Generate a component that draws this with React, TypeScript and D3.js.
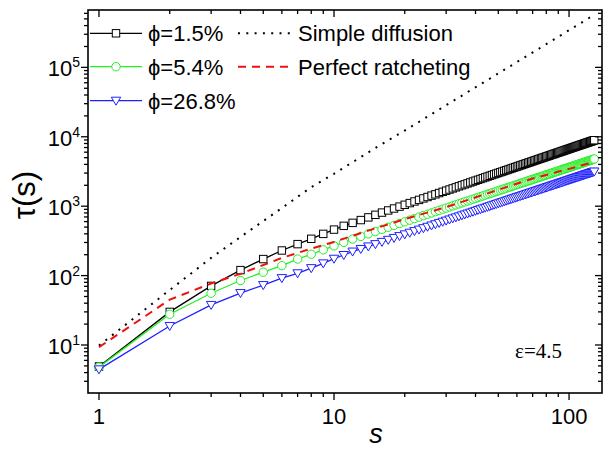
import React, { useEffect, useRef } from 'react';
import * as d3 from 'd3';

// s = 1..128 (integer steps)
const sValues = d3.range(1, 129);

// tau(s) for phi = 1.5 %
const tauLow = [
  4.9, 30, 71, 120, 173, 230, 284, 339, 399, 460, 521, 575, 631, 690, 751,
  809, 868, 926, 986, 1048, 1108, 1170, 1232, 1294, 1356, 1420, 1482, 1546, 1610, 1673,
  1738, 1804, 1868, 1935, 2000, 2066, 2131, 2198, 2264, 2332, 2399, 2467, 2535, 2602, 2671,
  2740, 2808, 2877, 2946, 3017, 3086, 3155, 3225, 3294, 3365, 3436, 3507, 3578, 3651, 3724,
  3794, 3867, 3938, 4010, 4083, 4155, 4226, 4300, 4374, 4449, 4523, 4595, 4667, 4743, 4817,
  4891, 4965, 5039, 5113, 5190, 5266, 5338, 5414, 5489, 5565, 5641, 5718, 5792, 5869, 5946,
  6020, 6097, 6174, 6248, 6327, 6403, 6481, 6560, 6634, 6714, 6788, 6869, 6943, 7023, 7099,
  7179, 7255, 7335, 7413, 7493, 7569, 7649, 7726, 7808, 7884, 7965, 8041, 8123, 8201, 8282,
  8360, 8441, 8519, 8600, 8679, 8764, 8840, 8923,
];

// tau(s) for phi = 5.4 %
const tauMid = [
  4.8, 27.7, 55.7, 85, 112, 139, 173, 203, 235, 268, 301, 336, 367, 399, 431,
  464, 497, 529, 562, 596, 629, 663, 697, 731, 765, 800, 834, 869, 904, 939,
  974, 1010, 1045, 1081, 1117, 1152, 1188, 1224, 1260, 1297, 1333, 1370, 1407, 1443, 1480,
  1517, 1554, 1591, 1628, 1666, 1703, 1740, 1778, 1815, 1853, 1891, 1929, 1967, 2005, 2044,
  2081, 2120, 2158, 2196, 2235, 2274, 2312, 2351, 2390, 2430, 2469, 2507, 2546, 2586, 2625,
  2664, 2703, 2743, 2782, 2822, 2862, 2901, 2941, 2980, 3021, 3061, 3101, 3141, 3181, 3221,
  3261, 3301, 3341, 3381, 3422, 3463, 3503, 3544, 3584, 3625, 3665, 3707, 3747, 3788, 3829,
  3870, 3911, 3952, 3994, 4035, 4076, 4117, 4158, 4200, 4241, 4282, 4323, 4365, 4407, 4448,
  4490, 4531, 4573, 4614, 4656, 4699, 4740, 4782,
];

// tau(s) for phi = 26.8 %
const tauHigh = [
  4.46, 18.8, 37.8, 56, 73, 92, 108, 128, 150, 175, 198, 222, 242, 263, 284,
  306, 328, 349, 371, 393, 415, 438, 460, 482, 505, 528, 550, 574, 597, 620,
  643, 667, 690, 713, 737, 760, 784, 808, 832, 856, 880, 904, 929, 952, 977,
  1001, 1026, 1050, 1074, 1100, 1124, 1148, 1173, 1198, 1223, 1248, 1273, 1298, 1323, 1349,
  1373, 1399, 1424, 1449, 1475, 1501, 1526, 1552, 1577, 1604, 1630, 1655, 1680, 1707, 1733,
  1758, 1784, 1810, 1836, 1863, 1889, 1915, 1941, 1967, 1994, 2020, 2047, 2073, 2099, 2126,
  2152, 2179, 2205, 2231, 2259, 2286, 2312, 2339, 2365, 2393, 2419, 2447, 2473, 2500, 2527,
  2554, 2581, 2608, 2636, 2663, 2690, 2717, 2744, 2772, 2799, 2826, 2853, 2881, 2909, 2936,
  2963, 2990, 3018, 3045, 3073, 3101, 3128, 3156,
];

// reference curves
const diffS = [1, 2, 3, 4, 5, 6, 8, 10, 15, 20, 30, 50, 70, 100, 128];
const diffTau = [9.8, 62, 180, 360, 610, 940, 1880, 2930, 6900, 12300, 28500, 81800, 164000, 343000, 571000];
const ratchetS = [1, 2, 3, 4, 6, 8, 10, 15, 20, 30, 45, 70, 100, 128];
const ratchetTau = [9.3, 45, 77, 106, 180, 245, 305, 480, 650, 970, 1530, 2500, 3450, 4350];

const xTicks = [1, 10, 100];
const yExponents = [1, 2, 3, 4, 5];
const seriesNames = ['ϕ=1.5%', 'ϕ=5.4%', 'ϕ=26.8%'];
const refNames = ['Simple diffusion', 'Perfect ratcheting'];
const epsLabel = 'ε=4.5';

const sans = 'Liberation Sans, Arial, Helvetica, sans-serif';

const App = () => {
  const chartRef = useRef<SVGSVGElement>(null);

  useEffect(() => {
    const svg = d3.select(chartRef.current);
    svg.selectAll('*').remove();

    const left = 88, right = 602, top = 10, bottom = 393;
    const x = d3.scaleLog().domain([0.898, 138.1]).range([left, right]);
    const y = d3.scaleLog().domain([2.034, 6.71e5]).range([bottom, top]);

    const series = [
      { vals: tauLow, color: '#000000', shape: 'square' },
      { vals: tauMid, color: '#22f022', shape: 'circle' },
      { vals: tauHigh, color: '#1f1fff', shape: 'tri' },
    ];

    const marker = (g, shape, color, cx, cy) => {
      if (shape === 'square') {
        g.append('rect').attr('x', cx - 3.7).attr('y', cy - 3.7).attr('width', 7.4).attr('height', 7.4)
          .attr('fill', '#fff').attr('stroke', color).attr('stroke-width', 1);
      } else if (shape === 'circle') {
        g.append('circle').attr('cx', cx).attr('cy', cy).attr('r', 4.2)
          .attr('fill', '#fff').attr('stroke', color).attr('stroke-width', 1);
      } else {
        g.append('path')
          .attr('d', `M${cx - 4.7},${cy - 3.5}L${cx + 4.7},${cy - 3.5}L${cx},${cy + 4.5}Z`)
          .attr('fill', '#fff').attr('stroke', color).attr('stroke-width', 1);
      }
    };

    const line = d3.line<[number, number]>().x(d => x(d[0])).y(d => y(d[1]));

    // data series
    series.forEach(sr => {
      const pts = sValues.map((s, i) => [s, sr.vals[i]] as [number, number]);
      svg.append('path').attr('d', line(pts)).attr('fill', 'none')
        .attr('stroke', sr.color).attr('stroke-width', 1.3);
      const g = svg.append('g');
      pts.forEach(p => marker(g, sr.shape, sr.color, x(p[0]), y(p[1])));
    });

    // reference lines
    svg.append('path').attr('d', line(diffS.map((s, i) => [s, diffTau[i]] as [number, number])))
      .attr('fill', 'none').attr('stroke', '#000').attr('stroke-width', 2).attr('stroke-dasharray', '2,6.3');
    svg.append('path').attr('d', line(ratchetS.map((s, i) => [s, ratchetTau[i]] as [number, number])))
      .attr('fill', 'none').attr('stroke', '#ee1111').attr('stroke-width', 2).attr('stroke-dasharray', '8,6');

    // frame
    svg.append('rect').attr('x', left).attr('y', top).attr('width', right - left).attr('height', bottom - top)
      .attr('fill', 'none').attr('stroke', '#000').attr('stroke-width', 1.6);

    // x ticks
    const xMinor = [];
    [1, 10, 100].forEach(d => [2, 3, 4, 5, 6, 7, 8, 9].forEach(m => { if (d * m < 138) xMinor.push(d * m); }));
    const ax = svg.append('g').attr('stroke', '#000').attr('stroke-width', 1.3);
    xTicks.forEach(t => {
      ax.append('line').attr('x1', x(t)).attr('x2', x(t)).attr('y1', bottom).attr('y2', bottom + 7);
      ax.append('line').attr('x1', x(t)).attr('x2', x(t)).attr('y1', top).attr('y2', top + 7);
    });
    xMinor.forEach(t => {
      ax.append('line').attr('x1', x(t)).attr('x2', x(t)).attr('y1', bottom).attr('y2', bottom + 4);
      ax.append('line').attr('x1', x(t)).attr('x2', x(t)).attr('y1', top).attr('y2', top + 4);
    });

    // y ticks
    const yMinor = [];
    [1, 10, 100, 1000, 10000, 100000].forEach(d => [2, 3, 4, 5, 6, 7, 8, 9].forEach(m => {
      const v = d * m;
      if (v > 2.04 && v < 6.7e5) yMinor.push(v);
    }));
    yExponents.forEach(e => {
      const v = Math.pow(10, e);
      ax.append('line').attr('x1', left - 7).attr('x2', left).attr('y1', y(v)).attr('y2', y(v));
      ax.append('line').attr('x1', right - 7).attr('x2', right).attr('y1', y(v)).attr('y2', y(v));
    });
    yMinor.forEach(v => {
      ax.append('line').attr('x1', left - 4).attr('x2', left).attr('y1', y(v)).attr('y2', y(v));
      ax.append('line').attr('x1', right - 4).attr('x2', right).attr('y1', y(v)).attr('y2', y(v));
    });

    // tick labels
    xTicks.forEach(t => {
      svg.append('text').attr('x', x(t)).attr('y', 424).attr('text-anchor', 'middle')
        .attr('font-family', sans).attr('font-size', 22).text(String(t));
    });
    yExponents.forEach(e => {
      const txt = svg.append('text').attr('x', 80).attr('y', y(Math.pow(10, e)) + 9)
        .attr('text-anchor', 'end').attr('font-family', sans).attr('font-size', 22);
      txt.append('tspan').text('10');
      txt.append('tspan').attr('dy', -9).attr('font-size', 14).text(String(e));
    });

    // axis titles
    svg.append('text').attr('transform', 'translate(35,195) rotate(-90)').attr('text-anchor', 'middle')
      .attr('font-family', sans).attr('font-size', 31).text('τ(s)');
    svg.append('text').attr('x', 376).attr('y', 443).attr('text-anchor', 'middle')
      .attr('font-family', sans).attr('font-style', 'italic').attr('font-size', 27).text('s');

    svg.append('text').attr('x', 562).attr('y', 358).attr('text-anchor', 'end')
      .attr('font-family', 'Liberation Serif, Times New Roman, serif').attr('font-size', 21).text(epsLabel);

    // legend
    const rowsY = [33.3, 66.7, 100.7];
    series.forEach((sr, i) => {
      const ly = rowsY[i];
      svg.append('line').attr('x1', 90).attr('x2', 142).attr('y1', ly).attr('y2', ly)
        .attr('stroke', sr.color).attr('stroke-width', 1.3);
      marker(svg, sr.shape, sr.color, 116, ly);
      svg.append('text').attr('x', 148).attr('y', ly + 8).attr('font-family', sans)
        .attr('font-size', 22).text(seriesNames[i]);
    });
    svg.append('line').attr('x1', 238).attr('x2', 292).attr('y1', rowsY[0]).attr('y2', rowsY[0])
      .attr('stroke', '#000').attr('stroke-width', 2).attr('stroke-dasharray', '2,6.3');
    svg.append('line').attr('x1', 238).attr('x2', 292).attr('y1', rowsY[1]).attr('y2', rowsY[1])
      .attr('stroke', '#ee1111').attr('stroke-width', 2).attr('stroke-dasharray', '8,6');
    refNames.forEach((n, i) => {
      svg.append('text').attr('x', 298).attr('y', rowsY[i] + 8).attr('font-family', sans)
        .attr('font-size', 22).text(n);
    });
  }, []);

  return (
    <svg ref={chartRef} width={603} height={449}
      style={{ position: 'absolute', left: 0, top: 0, background: '#fff' }} />
  );
};

export default App;
